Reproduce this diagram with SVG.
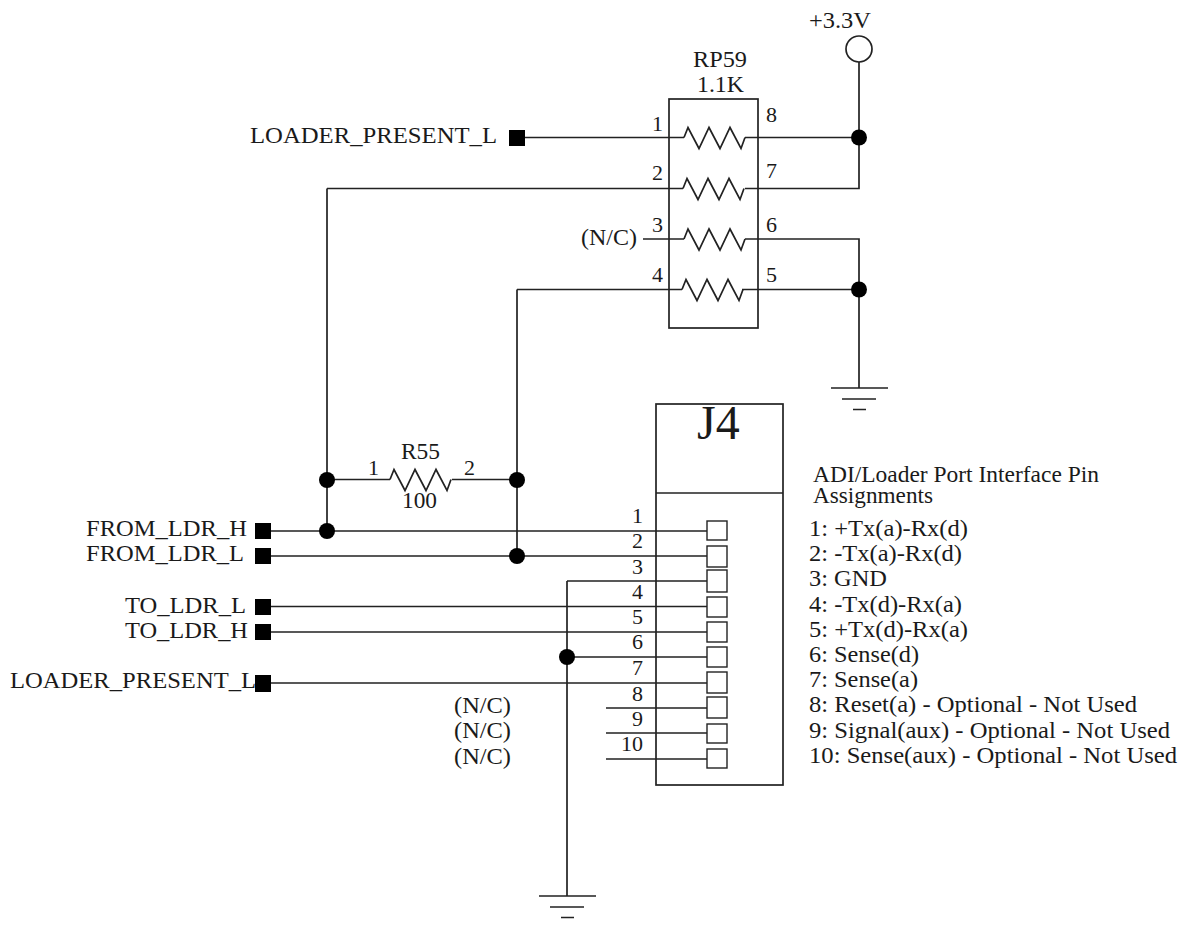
<svg xmlns="http://www.w3.org/2000/svg" width="1181" height="926" viewBox="0 0 1181 926">
<style>
text{font-family:"Liberation Serif","Times New Roman",serif;fill:#1a1a1a;font-size:23px}
.big{font-size:48px}
.n{font-size:22px}
.l{fill:none;stroke:#222;stroke-width:1.7}
.d{fill:#000}
.p{fill:#fff;stroke:#222;stroke-width:1.4}
</style>
<defs>
<path id="r" class="l" d="M0 0l4 -10l11 21l10 -21l11 21l10 -21l11 21l4 -11"/>
<g id="g"><path class="l" d="M-28 0H29M-17 11H17M-6 21.500H7"/></g>
</defs>
<rect width="1181" height="926" fill="#fff"/>
<g id="connectors">
<path class="l" d="M525 137.500H684M745 137.500H859M859 62V188.500H745M327 188.500H683M643 239H684M745 239H859V388M517 289.500H682M742 289.500H859M327 188.500V531M517 289.500V556"/>
<path class="l" d="M327 479.500H390M452 479.500H517"/>
<path class="l" d="M271 531H707M271 556H707M567 581H707M567 581V896M271 606.500H707M271 632H707M567 657H707M271 683H707M606 708H707M606 733H707M606 759H707"/>
</g>
<g id="rp59"><rect class="l" x="669" y="99" width="89" height="229"/>
<use href="#r" x="684" y="137.500"/><use href="#r" x="683" y="188.500"/><use href="#r" x="684" y="239"/><use href="#r" x="682" y="289.500"/>
<text x="693" y="67" textLength="54" lengthAdjust="spacingAndGlyphs">RP59</text><text x="697" y="92" textLength="47" lengthAdjust="spacingAndGlyphs">1.1K</text>
<text class="n" x="652" y="131">1</text><text class="n" x="652" y="180">2</text><text class="n" x="652" y="232">3</text><text class="n" x="652" y="282">4</text>
<text class="n" x="766" y="122">8</text><text class="n" x="766" y="178">7</text><text class="n" x="766" y="232">6</text><text class="n" x="766" y="282">5</text></g>
<g id="vcc"><circle class="l" cx="859" cy="49" r="13"/><text x="809" y="28" textLength="62" lengthAdjust="spacingAndGlyphs">+3.3V</text></g>
<g id="junctions">
<circle class="d" cx="859" cy="137.500" r="8"/><circle class="d" cx="859" cy="289.500" r="8"/><circle class="d" cx="327" cy="480" r="8"/><circle class="d" cx="517" cy="480" r="8"/><circle class="d" cx="327" cy="531" r="8"/><circle class="d" cx="517" cy="556" r="8"/><circle class="d" cx="567" cy="657" r="8"/>
</g>
<g id="gnd1"><use href="#g" x="859" y="388"/></g>
<g id="gnd2"><use href="#g" x="567" y="896"/></g>
<g id="r55"><use href="#r" x="390" y="479.500"/><text x="401" y="459" textLength="39" lengthAdjust="spacingAndGlyphs">R55</text><text class="n" x="368" y="475">1</text><text class="n" x="464" y="475">2</text><text x="402" y="508" textLength="35" lengthAdjust="spacingAndGlyphs">100</text></g>
<g id="ports">
<text x="250" y="143" textLength="247" lengthAdjust="spacingAndGlyphs">LOADER_PRESENT_L</text>
<text x="86" y="536" textLength="161" lengthAdjust="spacingAndGlyphs">FROM_LDR_H</text><text x="86" y="561" textLength="158" lengthAdjust="spacingAndGlyphs">FROM_LDR_L</text><text x="125" y="613" textLength="121" lengthAdjust="spacingAndGlyphs">TO_LDR_L</text><text x="125" y="638" textLength="123" lengthAdjust="spacingAndGlyphs">TO_LDR_H</text><text x="10" y="688" textLength="246" lengthAdjust="spacingAndGlyphs">LOADER_PRESENT_L</text>
<rect class="d" x="509" y="130" width="16" height="16"/>
<rect class="d" x="255" y="523" width="16" height="16"/><rect class="d" x="255" y="548" width="16" height="16"/><rect class="d" x="255" y="599" width="16" height="16"/><rect class="d" x="255" y="624" width="16" height="16"/><rect class="d" x="255" y="675" width="16" height="17"/>
<text x="581" y="245" textLength="56" lengthAdjust="spacingAndGlyphs">(N/C)</text><text x="454" y="713" textLength="57" lengthAdjust="spacingAndGlyphs">(N/C)</text><text x="454" y="738" textLength="57" lengthAdjust="spacingAndGlyphs">(N/C)</text><text x="454" y="764" textLength="57" lengthAdjust="spacingAndGlyphs">(N/C)</text>
</g>
<g id="j4"><rect class="l" x="656" y="404" width="127" height="381"/><path class="l" d="M656 493H783"/>
<text class="big" x="697" y="439">J4</text>
<rect class="p" x="707" y="521" width="20" height="19"/><rect class="p" x="707" y="546" width="20" height="21"/><rect class="p" x="707" y="570" width="20" height="22"/><rect class="p" x="707" y="597" width="20" height="20"/><rect class="p" x="707" y="622" width="20" height="20"/><rect class="p" x="707" y="647" width="20" height="20"/><rect class="p" x="707" y="672" width="20" height="21"/><rect class="p" x="707" y="697" width="20" height="21"/><rect class="p" x="707" y="724" width="20" height="19"/><rect class="p" x="707" y="749" width="20" height="19"/>
<text class="n" x="632" y="523">1</text><text class="n" x="632" y="548">2</text><text class="n" x="632" y="574">3</text><text class="n" x="632" y="599">4</text><text class="n" x="632" y="624">5</text><text class="n" x="632" y="649">6</text><text class="n" x="632" y="675">7</text><text class="n" x="632" y="701">8</text><text class="n" x="632" y="726">9</text><text class="n" x="621" y="751">10</text>
</g>
<g id="legend">
<text x="813" y="482" textLength="286" lengthAdjust="spacingAndGlyphs">ADI/Loader Port Interface Pin</text><text x="813" y="503" textLength="120" lengthAdjust="spacingAndGlyphs">Assignments</text>
<text x="809" y="536" textLength="159" lengthAdjust="spacingAndGlyphs">1: +Tx(a)-Rx(d)</text><text x="809" y="561" textLength="153" lengthAdjust="spacingAndGlyphs">2: -Tx(a)-Rx(d)</text><text x="809" y="586" textLength="78" lengthAdjust="spacingAndGlyphs">3: GND</text><text x="809" y="612" textLength="153" lengthAdjust="spacingAndGlyphs">4: -Tx(d)-Rx(a)</text><text x="809" y="637" textLength="159" lengthAdjust="spacingAndGlyphs">5: +Tx(d)-Rx(a)</text><text x="809" y="662" textLength="110" lengthAdjust="spacingAndGlyphs">6: Sense(d)</text><text x="809" y="687" textLength="109" lengthAdjust="spacingAndGlyphs">7: Sense(a)</text><text x="809" y="712" textLength="328" lengthAdjust="spacingAndGlyphs">8: Reset(a) - Optional - Not Used</text><text x="809" y="738" textLength="361" lengthAdjust="spacingAndGlyphs">9: Signal(aux) - Optional - Not Used</text><text x="809" y="763" textLength="368" lengthAdjust="spacingAndGlyphs">10: Sense(aux) - Optional - Not Used</text>
</g>
</svg>
